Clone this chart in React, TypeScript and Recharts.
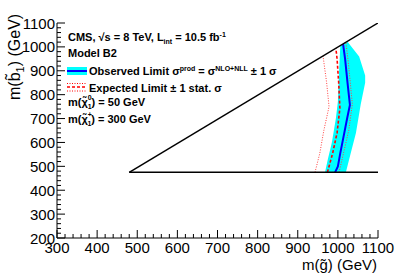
import { ComposedChart, Scatter, XAxis, YAxis } from 'recharts';

// axis labels (GeV)
const xLabels = [300, 400, 500, 600, 700, 800, 900, 1000, 1100];
const yLabels = [200, 300, 400, 500, 600, 700, 800, 900, 1000, 1100];

// kinematic boundary of the model (m_gluino > m_sbottom, m_sbottom > 475)
const kinEdge = [
  { x: 480, y: 475 },
  { x: 1100, y: 1100 },
];
const kinFloor = [
  { x: 480, y: 475 },
  { x: 1100, y: 475 },
];

// observed limit, blue solid
const obsLimit = [
  { x: 993, y: 475 },
  { x: 1000, y: 500 },
  { x: 1006, y: 555 },
  { x: 1016, y: 640 },
  { x: 1023, y: 700 },
  { x: 1030, y: 757 },
  { x: 1024, y: 850 },
  { x: 1018, y: 950 },
  { x: 1013, y: 1012 },
];

// observed +-1 sigma theory band (closed outline)
const obsBand = [
  { x: 968, y: 475 },
  { x: 975, y: 530 },
  { x: 985, y: 600 },
  { x: 995, y: 700 },
  { x: 1000, y: 770 },
  { x: 1003, y: 900 },
  { x: 1006, y: 1003 },
  { x: 1024, y: 1022 },
  { x: 1053, y: 960 },
  { x: 1068, y: 880 },
  { x: 1068, y: 850 },
  { x: 1057, y: 760 },
  { x: 1045, y: 640 },
  { x: 1032, y: 555 },
  { x: 1020, y: 475 },
];

// expected limit, red dashed
const expLimit = [
  { x: 974, y: 475 },
  { x: 987, y: 555 },
  { x: 998, y: 640 },
  { x: 1005, y: 743 },
  { x: 1002, y: 850 },
  { x: 998, y: 950 },
  { x: 995, y: 994 },
];

// expected -1 sigma, red dotted
const expLow = [
  { x: 943, y: 475 },
  { x: 955, y: 555 },
  { x: 965, y: 650 },
  { x: 978, y: 750 },
  { x: 972, y: 850 },
  { x: 963, y: 962 },
];

// expected +1 sigma, red dotted
const expHigh = [
  { x: 1003, y: 475 },
  { x: 1014, y: 555 },
  { x: 1027, y: 650 },
  { x: 1036, y: 760 },
  { x: 1031, y: 850 },
  { x: 1025, y: 950 },
  { x: 1020, y: 1017 },
];

const FONT = '"Liberation Sans", Arial, Helvetica, sans-serif';

const xTicks = Array.from({ length: 41 }, (_, i) => 300 + i * 20);
const yTicks = Array.from({ length: 46 }, (_, i) => 200 + i * 20);
const isMajor = (v: number) => v % 100 === 0;

const noDot = () => <g />;

function BottomTick({ x, y, payload }: any) {
  const v = payload.value;
  const len = isMajor(v) ? 8 : 4;
  return (
    <g>
      <line x1={x} x2={x} y1={y} y2={y - len} stroke="#000" />
      {isMajor(v) && xLabels.includes(v) && (
        <text x={x} y={y + 15} textAnchor="middle" fontSize={15} fontFamily={FONT} fill="#000">
          {v}
        </text>
      )}
    </g>
  );
}

function TopTick({ x, y, payload }: any) {
  const len = isMajor(payload.value) ? 8 : 4;
  return <line x1={x} x2={x} y1={y} y2={y + len} stroke="#000" />;
}

function LeftTick({ x, y, payload }: any) {
  const v = payload.value;
  const len = isMajor(v) ? 8 : 4;
  return (
    <g>
      <line x1={x} x2={x + len} y1={y} y2={y} stroke="#000" />
      {isMajor(v) && yLabels.includes(v) && (
        <text x={x - 2} y={y + 5.5} textAnchor="end" fontSize={15} fontFamily={FONT} fill="#000">
          {v}
        </text>
      )}
    </g>
  );
}

function RightTick({ x, y, payload }: any) {
  const len = isMajor(payload.value) ? 8 : 4;
  return <line x1={x} x2={x - len} y1={y} y2={y} stroke="#000" />;
}

function Annotations() {
  return (
    <svg
      width={407}
      height={276}
      style={{ position: 'absolute', left: 0, top: 0, pointerEvents: 'none' }}
      fontFamily={FONT}
    >
      <g fontSize={11} fontWeight="bold" fill="#000">
        <text x={68} y={41}>
          CMS, √s = 8 TeV, L<tspan dy={3} fontSize={7}>int</tspan>
          <tspan dy={-3}> = 10.5 fb</tspan>
          <tspan dy={-4} fontSize={7}>-1</tspan>
        </text>
        <text x={68} y={57}>Model B2</text>

        <rect x={67} y={67} width={20} height={8} fill="#00ffff" />
        <line x1={67} x2={87} y1={71} y2={71} stroke="#0000ff" strokeWidth={2} />
        <text x={89} y={75}>
          Observed Limit σ<tspan dy={-4} fontSize={7}>prod</tspan>
          <tspan dy={4}> = σ</tspan>
          <tspan dy={-4} fontSize={7}>NLO+NLL</tspan>
          <tspan dy={4}> ± 1 σ</tspan>
        </text>

        <line x1={67} x2={87} y1={83.5} y2={83.5} stroke="#ff0000" strokeWidth={1} strokeDasharray="1 1.5" />
        <line x1={67} x2={87} y1={87} y2={87} stroke="#ff0000" strokeWidth={1.5} strokeDasharray="3 2" />
        <line x1={67} x2={87} y1={91} y2={91} stroke="#ff0000" strokeWidth={1} strokeDasharray="1 1.5" />
        <text x={89} y={92}>Expected Limit ± 1 stat. σ</text>

        <text x={68} y={106}>
          m(χ̃<tspan dy={-6} fontSize={7}>0</tspan>
          <tspan dx={-4} dy={9} fontSize={7}>1</tspan>
          <tspan dy={-3}>) = 50 GeV</tspan>
        </text>
        <text x={68} y={123}>
          m(χ̃<tspan dy={-6} fontSize={7}>+</tspan>
          <tspan dx={-4.5} dy={9} fontSize={7}>1</tspan>
          <tspan dy={-3}>) = 300 GeV</tspan>
        </text>
      </g>

      <text x={377} y={270} textAnchor="end" fontSize={15} fill="#000">
        m(g̃) (GeV)
      </text>
      <text
        x={20}
        y={100}
        transform="rotate(-90, 20, 100)"
        fontSize={16}
        fill="#000"
      >
        m(b̃<tspan dy={4} fontSize={11}>1</tspan>
        <tspan dy={-4}>) (GeV)</tspan>
      </text>
    </svg>
  );
}

export default function App() {
  return (
    <div style={{ position: 'absolute', left: 0, top: 0, width: 407, height: 276, background: '#fff' }}>
      <ComposedChart width={407} height={276} margin={{ top: 23, right: 29, bottom: 0, left: 0 }}>
        <XAxis
          xAxisId={0}
          type="number"
          dataKey="x"
          domain={[300, 1100]}
          ticks={xTicks}
          interval={0}
          allowDataOverflow
          height={38}
          tickSize={0}
          tickMargin={0}
          tickLine={false}
          tick={BottomTick}
          axisLine={{ stroke: '#000' }}
        />
        <XAxis
          xAxisId="top"
          orientation="top"
          type="number"
          dataKey="x"
          domain={[300, 1100]}
          ticks={xTicks}
          interval={0}
          allowDataOverflow
          height={0}
          tickSize={0}
          tickMargin={0}
          tickLine={false}
          tick={TopTick}
          axisLine={{ stroke: '#000' }}
        />
        <YAxis
          yAxisId={0}
          type="number"
          dataKey="y"
          domain={[200, 1100]}
          ticks={yTicks}
          interval={0}
          allowDataOverflow
          width={57}
          tickSize={0}
          tickMargin={0}
          tickLine={false}
          tick={LeftTick}
          axisLine={{ stroke: '#000' }}
        />
        <YAxis
          yAxisId="right"
          orientation="right"
          type="number"
          dataKey="y"
          domain={[200, 1100]}
          ticks={yTicks}
          interval={0}
          allowDataOverflow
          width={0}
          tickSize={0}
          tickMargin={0}
          tickLine={false}
          tick={RightTick}
          axisLine={{ stroke: '#000' }}
        />

        <Scatter
          data={obsBand}
          shape={noDot}
          line={{ stroke: 'none', fill: '#00ffff' }}
          isAnimationActive={false}
        />
        <Scatter
          data={expLow}
          shape={noDot}
          line={{ stroke: '#ff4040', strokeWidth: 1, strokeDasharray: '1 1.5' }}
          isAnimationActive={false}
        />
        <Scatter
          data={expHigh}
          shape={noDot}
          line={{ stroke: '#ff4040', strokeWidth: 1, strokeDasharray: '1 1.5' }}
          isAnimationActive={false}
        />
        <Scatter
          data={expLimit}
          shape={noDot}
          line={{ stroke: '#ff0000', strokeWidth: 1.6, strokeDasharray: '3 2' }}
          isAnimationActive={false}
        />
        <Scatter
          data={obsLimit}
          shape={noDot}
          line={{ stroke: '#0000ff', strokeWidth: 2 }}
          isAnimationActive={false}
        />
        <Scatter
          data={kinEdge}
          shape={noDot}
          line={{ stroke: '#000', strokeWidth: 1.5 }}
          isAnimationActive={false}
        />
        <Scatter
          data={kinFloor}
          shape={noDot}
          line={{ stroke: '#000', strokeWidth: 1.5 }}
          isAnimationActive={false}
        />
      </ComposedChart>
      <Annotations />
    </div>
  );
}
